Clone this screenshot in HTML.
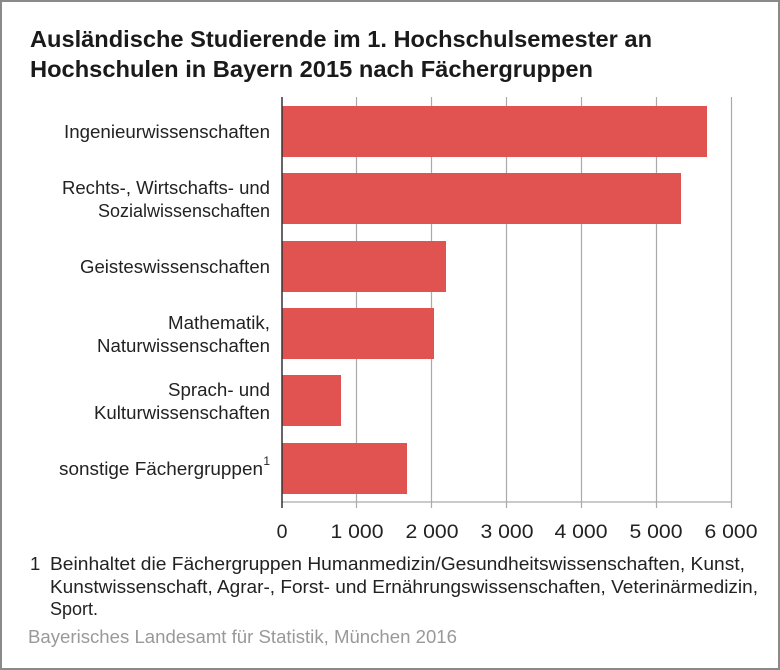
<!DOCTYPE html>
<html><head><style>
body{margin:0;width:780px;height:670px;background:#fff;font-family:"Liberation Sans",sans-serif;}
.frame{position:absolute;left:0;top:0;width:776px;height:666px;border:2px solid #8a8a8a;}
</style></head><body>
<div class="frame"></div>
<svg width="780" height="670" style="position:absolute;left:0;top:0" font-family="Liberation Sans, sans-serif" font-size="18.5" fill="#222">
<text x="30" y="47" font-size="23" font-weight="bold" fill="#1a1a1a" textLength="622" lengthAdjust="spacingAndGlyphs">Ausländische Studierende im 1. Hochschulsemester an</text>
<text x="30" y="77" font-size="23" font-weight="bold" fill="#1a1a1a" textLength="563" lengthAdjust="spacingAndGlyphs">Hochschulen in Bayern 2015 nach Fächergruppen</text>
<g stroke="#aaa" stroke-width="1.2">
<line x1="356.5" y1="97" x2="356.5" y2="508"/><line x1="431.5" y1="97" x2="431.5" y2="508"/><line x1="506.5" y1="97" x2="506.5" y2="508"/><line x1="581.5" y1="97" x2="581.5" y2="508"/><line x1="656.5" y1="97" x2="656.5" y2="508"/><line x1="731.5" y1="97" x2="731.5" y2="508"/>
<line x1="282" y1="502" x2="732" y2="502"/>
</g>
<g fill="#e05350">
<rect x="282" y="106" width="425" height="51"/>
<rect x="282" y="173" width="399" height="51"/>
<rect x="282" y="241" width="164" height="51"/>
<rect x="282" y="308" width="152" height="51"/>
<rect x="282" y="375" width="59" height="51"/>
<rect x="282" y="443" width="125" height="51"/>
</g>
<line x1="282" y1="97" x2="282" y2="508" stroke="#333" stroke-width="1.5"/>
<g text-anchor="middle" font-size="19.5">
<text x="282" y="538">0</text>
<text x="357" y="538" textLength="53" lengthAdjust="spacingAndGlyphs">1 000</text>
<text x="432" y="538" textLength="53" lengthAdjust="spacingAndGlyphs">2 000</text>
<text x="507" y="538" textLength="53" lengthAdjust="spacingAndGlyphs">3 000</text>
<text x="581" y="538" textLength="53" lengthAdjust="spacingAndGlyphs">4 000</text>
<text x="656" y="538" textLength="53" lengthAdjust="spacingAndGlyphs">5 000</text>
<text x="731" y="538" textLength="53" lengthAdjust="spacingAndGlyphs">6 000</text>
</g>
<g text-anchor="end">
<text x="270" y="138" textLength="206" lengthAdjust="spacingAndGlyphs">Ingenieurwissenschaften</text>
<text x="270" y="194" textLength="208" lengthAdjust="spacingAndGlyphs">Rechts-, Wirtschafts- und</text>
<text x="270" y="217" textLength="172" lengthAdjust="spacingAndGlyphs">Sozialwissenschaften</text>
<text x="270" y="273" textLength="190" lengthAdjust="spacingAndGlyphs">Geisteswissenschaften</text>
<text x="270" y="329" textLength="102" lengthAdjust="spacingAndGlyphs">Mathematik,</text>
<text x="270" y="352" textLength="173" lengthAdjust="spacingAndGlyphs">Naturwissenschaften</text>
<text x="270" y="396" textLength="102" lengthAdjust="spacingAndGlyphs">Sprach- und</text>
<text x="270" y="419" textLength="176" lengthAdjust="spacingAndGlyphs">Kulturwissenschaften</text>
<text x="263" y="475" textLength="204" lengthAdjust="spacingAndGlyphs">sonstige Fächergruppen</text>
<text x="270" y="465" font-size="12">1</text>
</g>
<text x="30" y="570">1</text>
<text x="50" y="570" textLength="695" lengthAdjust="spacingAndGlyphs">Beinhaltet die Fächergruppen Humanmedizin/Gesundheitswissenschaften, Kunst,</text>
<text x="50" y="593" textLength="708" lengthAdjust="spacingAndGlyphs">Kunstwissenschaft, Agrar-, Forst- und Ernährungswissenschaften, Veterinärmedizin,</text>
<text x="50" y="615" textLength="48" lengthAdjust="spacingAndGlyphs">Sport.</text>
<text x="28" y="643" fill="#999" textLength="429" lengthAdjust="spacingAndGlyphs">Bayerisches Landesamt für Statistik, München 2016</text>
</svg>
</body></html>
